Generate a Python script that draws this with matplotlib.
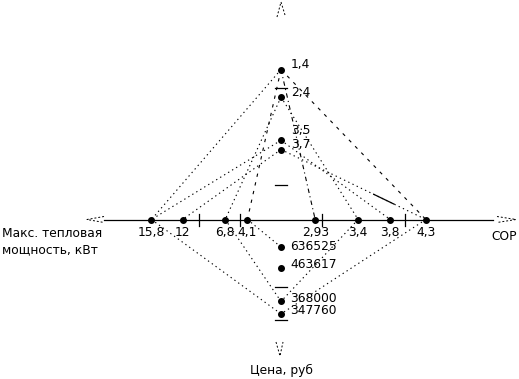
import matplotlib.pyplot as plt
import numpy as np

plt.rcParams['font.family'] = ['DejaVu Sans']

# values on the four arms of the diagram
top_vals = [1.4, 2.4, 3.5, 3.7]
left_vals = [15.8, 12, 6.8, 4.1]          # max heat power, kW
right_vals = [2.93, 3.4, 3.8, 4.3]        # COP
price_vals = [636525, 463617, 368000, 347760]

# scale marks on each arm
top_ticks = [2.1, 4.4]
left_ticks = [5, 10]
right_ticks = [3, 4]
price_ticks = [400000, 340000]

# segments drawn between arm values: (arm, value, arm, value, style)
links = [
    ('top', 1.4, 'left', 15.8, 'dot'),
    ('top', 1.4, 'right', 4.3, 'dash'),
    ('top', 1.4, 'left', 4.1, 'dash'),
    ('top', 1.4, 'right', 2.93, 'dashdot'),
    ('top', 3.5, 'left', 15.8, 'dot'),
    ('top', 3.7, 'left', 12, 'dot'),
    ('top', 2.4, 'left', 6.8, 'dot'),
    ('top', 2.4, 'right', 3.4, 'dot'),
    ('top', 3.5, 'right', 3.8, 'dot'),
    ('top', 3.7, 'right', 4.3, 'dot'),
    ('left', 4.1, 'bottom', 636525, 'dot'),
    ('left', 6.8, 'bottom', 368000, 'dot'),
    ('left', 15.8, 'bottom', 347760, 'dot'),
    ('right', 3.4, 'bottom', 368000, 'dot'),
    ('right', 4.3, 'bottom', 347760, 'dot'),
]

styles = {'dot': (0, (1.2, 3)), 'dash': (0, (3, 5)), 'dashdot': (0, (4, 3, 1, 3))}

cx, cy = 281, 219.5
dirs = {'top': (0, -1), 'bottom': (0, 1), 'left': (-1, 0), 'right': (1, 0)}


def make_scale(domain, rng, kind=1.0):
    # kind: power exponent, or 'log'
    if kind == 'log':
        tf = np.log
    else:
        tf = lambda v: np.power(float(v), kind)
    t0, t1 = tf(domain[0]), tf(domain[1])
    k = (rng[1] - rng[0]) / (t1 - t0)
    return lambda v: rng[0] + (tf(v) - t0) * k


scales = {
    'top': make_scale([1.4, 3.7], [150, 70], 1.8),
    'left': make_scale([5, 10], [41, 82]),
    'right': make_scale([3, 4], [41, 124], 'log'),
    'bottom': make_scale([400000, 340000], [67, 100], -3.0),
}


def pos(arm, v):
    r = scales[arm](v)
    dx, dy = dirs[arm]
    return cx + dx * r, cy + dy * r


def fmt(v):
    return str(v).replace('.', ',')


fig = plt.figure(figsize=(5.19, 3.79), dpi=100)
ax = fig.add_axes([0, 0, 1, 1])
ax.set_xlim(0, 519)
ax.set_ylim(379, 0)
ax.axis('off')

# horizontal axis and dashed arrow heads
ax.plot([104, 493], [cy, cy], color='black', lw=0.9)
arrow_ls = (0, (2, 2))
ax.plot([104, 87, 104], [cy - 3, cy, cy + 3], color='black', lw=0.7, ls=arrow_ls)
ax.plot([497, 516, 497], [cy - 3, cy, cy + 3], color='black', lw=0.7, ls=arrow_ls)
ax.plot([277, 281, 285], [17, 2, 15], color='black', lw=0.7, ls=arrow_ls)
ax.plot([276, 280, 283], [342, 356, 342], color='black', lw=0.7, ls=arrow_ls)

for a1, v1, a2, v2, st in links:
    x1, y1 = pos(a1, v1)
    x2, y2 = pos(a2, v2)
    ax.plot([x1, x2], [y1, y2], color='black', lw=0.8, ls=styles[st])

# short solid stretch on the 3,7 - 4,3 segment
x1, y1 = pos('top', 3.7)
x2, y2 = pos('right', 4.3)
f = np.array([0.64, 0.78])
ax.plot(x1 + f * (x2 - x1), y1 + f * (y2 - y1), color='black', lw=0.9)

# scale marks
for v in top_ticks:
    x, y = pos('top', v)
    ax.plot([x - 6, x + 6], [y, y], color='black', lw=0.9)
for v in price_ticks:
    x, y = pos('bottom', v)
    ax.plot([x - 6, x + 6], [y, y], color='black', lw=0.9)
for v in left_ticks:
    x, y = pos('left', v)
    ax.plot([x, x], [y - 6, y + 6], color='black', lw=0.9)
for v in right_ticks:
    x, y = pos('right', v)
    ax.plot([x, x], [y - 6, y + 6], color='black', lw=0.9)

fs = 8.8
ms = 4

# top points; labels sit a little above, pushed apart when crowded
label_y = []
for v in top_vals:
    x, y = pos('top', v)
    ax.plot(x, y, 'o', color='black', ms=ms)
    label_y.append(y - 5)
for i in range(len(label_y) - 1, 0, -1):
    if label_y[i] - label_y[i - 1] < 14:
        label_y[i - 1] = label_y[i] - 14
for v, ly in zip(top_vals, label_y):
    ax.text(cx + 10, ly, fmt(v), fontsize=fs, ha='left', va='center')

for v in left_vals:
    x, y = pos('left', v)
    ax.plot(x, y, 'o', color='black', ms=ms)
    ax.text(x, y + 13, fmt(v), fontsize=fs, ha='center', va='center')
for v in right_vals:
    x, y = pos('right', v)
    ax.plot(x, y, 'o', color='black', ms=ms)
    ax.text(x, y + 13, fmt(v), fontsize=fs, ha='center', va='center')

label_y = []
for v in price_vals:
    x, y = pos('bottom', v)
    ax.plot(x, y, 'o', color='black', ms=ms)
    label_y.append(max(y - 3, cy + 27))
for i in range(1, len(label_y)):
    if label_y[i] - label_y[i - 1] < 12:
        label_y[i] = label_y[i - 1] + 12
for v, ly in zip(price_vals, label_y):
    ax.text(cx + 9, ly, str(v), fontsize=fs, ha='left', va='center')

# axis captions
ax.text(2, 242, 'Макс. тепловая\nмощность, кВт', fontsize=fs, ha='left', va='center',
        linespacing=1.35)
ax.text(504, 237, 'СОР', fontsize=fs, ha='center', va='center')
ax.text(281, 370, 'Цена, руб', fontsize=fs, ha='center', va='center')

fig.savefig('out.png', dpi=100)
